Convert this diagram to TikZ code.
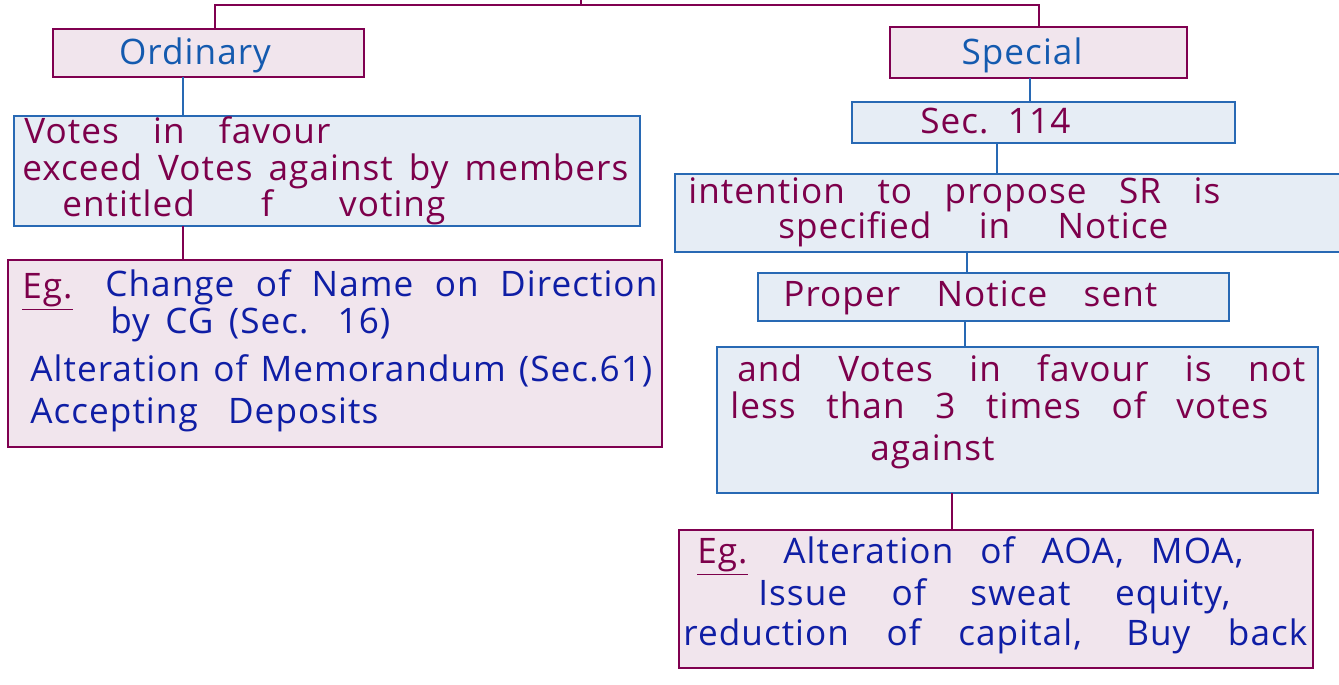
\documentclass[tikz,border=0pt]{standalone}
\usepackage{fontspec}
\setmainfont{Open Sans}[LetterSpace=3]
\usepackage{tikz}
\definecolor{plum}{RGB}{128,0,80}
\definecolor{pinkfill}{RGB}{241,229,237}
\definecolor{bluefill}{RGB}{230,237,245}
\definecolor{blueline}{RGB}{40,105,180}
\definecolor{inkblue}{RGB}{15,30,165}
\definecolor{ordblue}{RGB}{20,90,175}
\definecolor{inkred}{RGB}{125,0,75}
\newcommand{\hand}{\fontsize{20}{24}\selectfont}
\def\pxu{0.02cm}
\newlength{\pxl}
\setlength{\pxl}{0.02cm}
% stretch one written line to the width it has in the sketch
\newcommand{\wline}[2]{\makebox[#1\pxl][s]{#2}}

\begin{document}
\begin{tikzpicture}[x=0.02cm, y=-0.02cm,
  pinkbox/.style={draw=plum, line width=0.9pt, fill=pinkfill,
    inner sep=0pt, outer sep=0pt},
  bluebox/.style={draw=blueline, line width=0.8pt, fill=bluefill,
    inner sep=0pt, outer sep=0pt},
  ink/.style={inner sep=0pt, anchor=base west, font=\hand},
  link/.style={blueline, line width=0.6pt},
  plumlink/.style={plum, line width=0.7pt}]
  \clip (0,0) rectangle (1339,684);

  % branch boxes
  \node[pinkbox, minimum width=311*\pxu, minimum height=48*\pxu]
    (ord) at (208.5,53) {};
  \node[pinkbox, minimum width=297*\pxu, minimum height=51*\pxu]
    (spec) at (1038.5,52.5) {};

  % ordinary side
  \node[bluebox, minimum width=626*\pxu, minimum height=110*\pxu]
    (votesA) at (327,171) {};
  \node[pinkbox, minimum width=654*\pxu, minimum height=187*\pxu]
    (egA) at (335,353.5) {};

  % special side
  \node[bluebox, minimum width=383*\pxu, minimum height=41*\pxu]
    (sec) at (1043.5,122.5) {};
  \node[bluebox, minimum width=670*\pxu, minimum height=78*\pxu]
    (intent) at (1010,213) {};
  \node[bluebox, minimum width=471*\pxu, minimum height=48*\pxu]
    (notice) at (993.5,297) {};
  \node[bluebox, minimum width=601*\pxu, minimum height=146*\pxu]
    (votesB) at (1017.5,420) {};
  \node[pinkbox, minimum width=634*\pxu, minimum height=138*\pxu]
    (egB) at (996,599) {};

  % top bracket
  \coordinate (tl) at (215,5);
  \coordinate (tr) at (1039,5);
  \coordinate (stub) at (581,0);
  \draw[plumlink] (ord.north -| tl) -- (tl) -- (tr) -- (spec.north -| tr);
  \draw[plumlink] (stub) -- (stub |- tl);

  % connectors
  \coordinate (la) at (183,0);
  \draw[link] (ord.south -| la) -- (votesA.north -| la);
  \draw[plumlink] (votesA.south -| la) -- (egA.north -| la);
  \coordinate (ra) at (1030,0);
  \coordinate (rb) at (997,0);
  \coordinate (rc) at (967,0);
  \coordinate (rd) at (965,0);
  \coordinate (re) at (952,0);
  \draw[link] (spec.south -| ra) -- (sec.north -| ra);
  \draw[link] (sec.south -| rb) -- (intent.north -| rb);
  \draw[link] (intent.south -| rc) -- (notice.north -| rc);
  \draw[link] (notice.south -| rd) -- (votesB.north -| rd);
  \draw[plumlink] (votesB.south -| re) -- (egB.north -| re);

  % texts
  \node[ink, anchor=center, text=ordblue] (ordT) at (195,55) {Ordinary};
  \node[ink, anchor=center, text=ordblue] (specT) at (1022,55) {Special};

  \node[ink, text=inkred] (vA1) at (24,143) {\wline{306}{Votes in favour}};
  \node[ink, text=inkred] (vA2) at (22,180)
    {\wline{606}{exceed Votes against by members}};
  \node[ink, text=inkred] (vA3) at (62,216) {\wline{383}{entitled f voting}};

  \node[ink, text=inkred] (egA0) at (22,298) {\underline{Eg.}};
  \node[ink, text=inkblue] (egA1) at (105,296)
    {\wline{552}{Change of Name on Direction}};
  \node[ink, text=inkblue] (egA2) at (110,333) {\wline{280}{by CG (Sec. 16)}};
  \node[ink, text=inkblue] (egA3) at (30,381)
    {\wline{622}{Alteration of Memorandum (Sec.61)}};
  \node[ink, text=inkblue] (egA4) at (30,423) {\wline{348}{Accepting Deposits}};

  \node[ink, text=inkred] (secT) at (920,133) {\wline{150}{Sec. 114}};
  \node[ink, text=inkred] (in1) at (688,203)
    {\wline{532}{intention to propose SR is}};
  \node[ink, text=inkred] (in2) at (778,238) {\wline{390}{specified in Notice}};
  \node[ink, text=inkred] (noT) at (783,306) {\wline{374}{Proper Notice sent}};

  \node[ink, text=inkred] (vB1) at (737,381)
    {\wline{568}{and Votes in favour is not}};
  \node[ink, text=inkred] (vB2) at (730,418)
    {\wline{538}{less than 3 times of votes}};
  \node[ink, text=inkred] (vB3) at (870,460) {against};

  \node[ink, text=inkred] (egB0) at (697,563) {\underline{Eg.}};
  \node[ink, text=inkblue] (egB1) at (783,563)
    {\wline{460}{Alteration of AOA, MOA,}};
  \node[ink, text=inkblue] (egB2) at (758,605)
    {\wline{472}{Issue of sweat equity,}};
  \node[ink, text=inkblue] (egB3) at (683,645)
    {\wline{624}{reduction of capital, Buy back}};
\end{tikzpicture}
\end{document}
